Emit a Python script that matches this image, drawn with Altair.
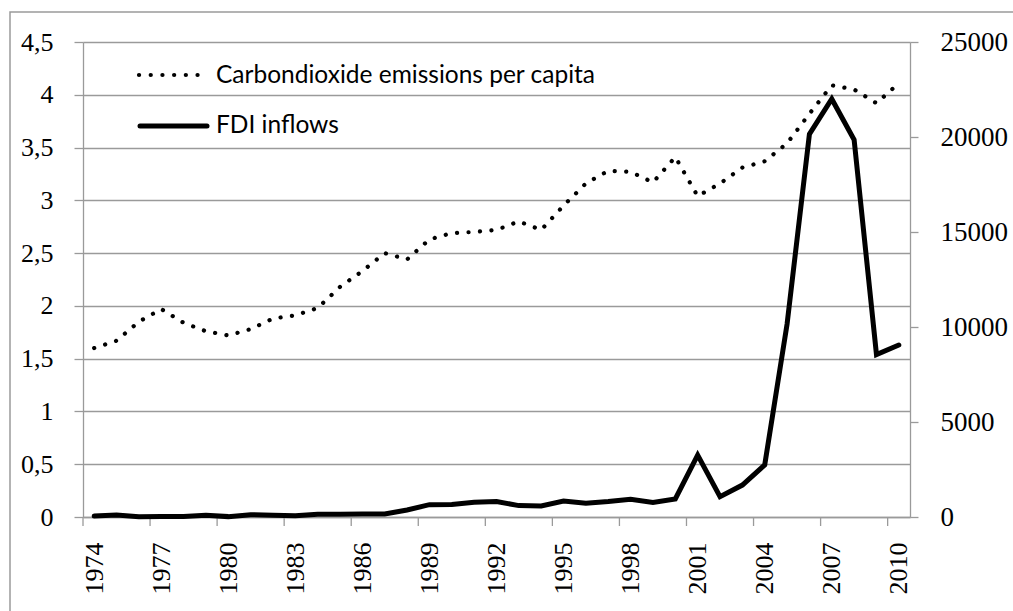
import altair as alt
import pandas as pd

years = list(range(1974, 2011))
co2 = [1.60, 1.67, 1.85, 1.97, 1.84, 1.76, 1.72, 1.78, 1.88, 1.91, 1.98, 2.18, 2.33,
       2.50, 2.44, 2.63, 2.69, 2.70, 2.72, 2.80, 2.72, 2.95, 3.16, 3.28, 3.27, 3.17,
       3.41, 3.04, 3.16, 3.31, 3.37, 3.54, 3.82, 4.09, 4.05, 3.92, 4.11]
fdi = [50, 100, 10, 20, 20, 90, 20, 120, 90, 60, 140, 140, 160, 160, 370, 650, 660,
       770, 810, 600, 580, 840, 720, 810, 930, 770, 950, 3260, 1070, 1680, 2740,
       10150, 20150, 22000, 19850, 8550, 9050]
year_labels = [1974, 1977, 1980, 1983, 1986, 1989, 1992, 1995, 1998, 2001, 2004, 2007, 2010]
x_tick_edges = [1973.5, 1976.5, 1979.5, 1982.5, 1985.5, 1988.5, 1991.5, 1994.5,
                1997.5, 2000.5, 2003.5, 2006.5, 2009.5]
left_ticks = [0, 0.5, 1, 1.5, 2, 2.5, 3, 3.5, 4, 4.5]
right_ticks = [0, 5000, 10000, 15000, 20000, 25000]
legend_labels = ["Carbondioxide emissions per capita", "FDI inflows"]

W, H = 827, 475
GRAY = "#9a9a9a"
SERIF = "Liberation Serif"
SANS = "Lato"

df = pd.DataFrame({"year": years, "co2": co2, "fdi": fdi})
edges_df = pd.DataFrame({"edge": x_tick_edges})
one = pd.DataFrame({"k": [0]})

xscale = alt.Scale(domain=[1973.5, 2010.5], nice=False, zero=False)
xaxis = alt.Axis(values=year_labels, format="d", labelAngle=270, labelFont=SERIF,
                 labelFontSize=26, labelColor="black", labelPadding=25, ticks=False,
                 tickSize=0, grid=False, domainColor=GRAY, domainWidth=1.3, title=None,
                 labelOverlap=False)

co2_line = alt.Chart(df).mark_line(
    color="black", strokeWidth=4.2, strokeDash=[0.1, 11.4], strokeCap="round"
).encode(
    x=alt.X("year:Q", scale=xscale, axis=xaxis),
    y=alt.Y("co2:Q", scale=alt.Scale(domain=[0, 4.5], nice=False),
            axis=alt.Axis(values=left_ticks, labelExpr="replace(format(datum.value, '~g'), '.', ',')",
                          labelFont=SERIF, labelFontSize=26, labelColor="black",
                          labelPadding=21, tickSize=9, tickColor=GRAY, tickWidth=1.3,
                          domainColor=GRAY, domainWidth=1.3, grid=True, gridColor=GRAY,
                          gridWidth=1.3, title=None)),
)

fdi_line = alt.Chart(df).mark_line(
    color="black", strokeWidth=5, strokeCap="round", strokeJoin="miter"
).encode(
    x=alt.X("year:Q", scale=xscale, axis=xaxis),
    y=alt.Y("fdi:Q", scale=alt.Scale(domain=[0, 25000], nice=False),
            axis=alt.Axis(orient="right", values=right_ticks, format="d",
                          labelFont=SERIF, labelFontSize=27, labelColor="black",
                          labelPadding=22, tickSize=8, tickColor=GRAY, tickWidth=1.3,
                          domainColor=GRAY, domainWidth=1.3, grid=False, title=None)),
)

x_ticks = alt.Chart(edges_df).mark_rule(color=GRAY, strokeWidth=1.3).encode(
    x=alt.X("edge:Q", scale=xscale, axis=xaxis),
    y=alt.value(H),
    y2=alt.value(H + 9),
)

border = alt.Chart(one).mark_rect(fill=None, stroke=GRAY, strokeWidth=1.5).encode(
    x=alt.value(-73), x2=alt.value(W + 200), y=alt.value(-30), y2=alt.value(H + 200)
)

leg_co2 = alt.Chart(one).mark_rule(
    color="black", strokeWidth=4.2, strokeDash=[0.1, 11.6], strokeCap="round"
).encode(x=alt.value(56), x2=alt.value(116), y=alt.value(33))
leg_fdi = alt.Chart(one).mark_rule(
    color="black", strokeWidth=5, strokeCap="round"
).encode(x=alt.value(57), x2=alt.value(124), y=alt.value(84))
leg_t1 = alt.Chart(one).mark_text(
    text=legend_labels[0], align="left", baseline="middle", font=SANS, fontSize=24.5,
    color="black"
).encode(x=alt.value(133), y=alt.value(34))
leg_t2 = alt.Chart(one).mark_text(
    text=legend_labels[1], align="left", baseline="middle", font=SANS, fontSize=24.5,
    color="black"
).encode(x=alt.value(133), y=alt.value(84))

chart = alt.layer(
    border, x_ticks, co2_line, fdi_line, leg_co2, leg_fdi, leg_t1, leg_t2
).resolve_scale(y="independent").properties(
    width=W, height=H,
    autosize=alt.AutoSizeParams(type="none"),
    padding={"left": 83, "top": 42, "right": 103, "bottom": 94},
    background="white",
).configure_view(stroke=None)

chart.save("out.html", embed_options={"renderer": "svg", "actions": False})
